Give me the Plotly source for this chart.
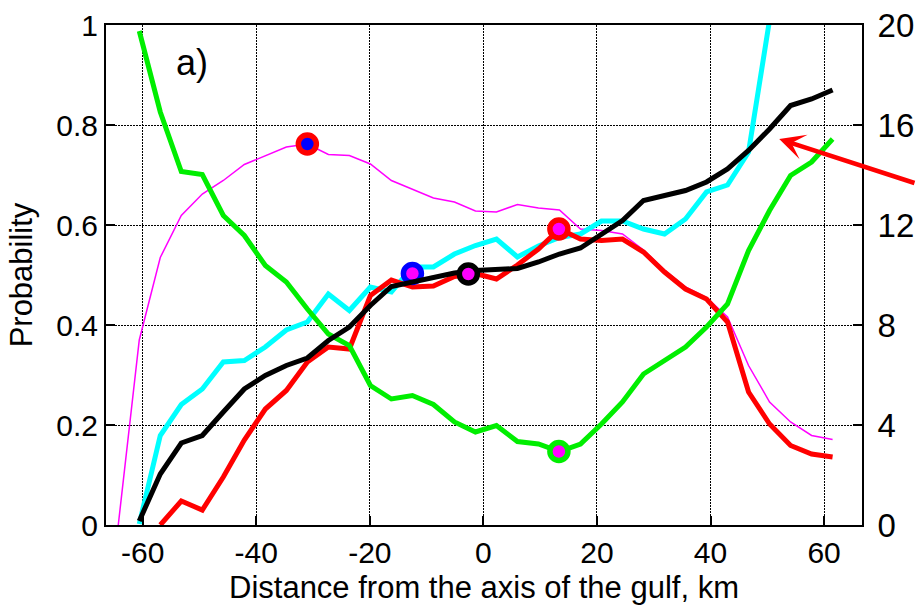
import plotly.graph_objects as go

# Distance grid (km)
x_km = [-60.6, -56.9, -53.2, -49.5, -45.8, -42.1, -38.4, -34.7, -31.0, -27.3,
        -23.6, -19.9, -16.2, -12.5, -8.8, -5.1, -1.4, 2.3, 6.0, 9.7,
        13.4, 17.1, 20.8, 24.5, 28.2, 31.9, 35.6, 39.3, 43.0, 46.7,
        50.4, 54.1, 57.8, 61.5]

green = [0.988, 0.826, 0.707, 0.701, 0.619, 0.579, 0.519, 0.486, 0.432, 0.382,
         0.359, 0.279, 0.252, 0.259, 0.241, 0.206, 0.186, 0.199, 0.167, 0.162,
         0.147, 0.162, 0.202, 0.246, 0.302, 0.329, 0.356, 0.396, 0.442, 0.549,
         0.629, 0.699, 0.726, 0.772]

red = [None, 0.0, 0.048, 0.030, 0.096, 0.170, 0.232, 0.269, 0.326, 0.356,
       0.352, 0.459, 0.490, 0.476, 0.478, 0.497, 0.503, 0.492, 0.520, 0.552,
       0.592, 0.572, 0.569, 0.572, 0.546, 0.506, 0.472, 0.452, 0.406, 0.266,
       0.202, 0.159, 0.142, 0.136]

cyan = [0.002, 0.179, 0.241, 0.272, 0.326, 0.329, 0.356, 0.390, 0.406, 0.462,
        0.429, 0.476, 0.466, 0.516, 0.516, 0.542, 0.559, 0.572, 0.536, 0.558,
        0.575, 0.582, 0.608, 0.608, 0.592, 0.582, 0.612, 0.666, 0.680, 0.746,
        1.01, None, None, None]

# black curve read against the right axis (0-20)
black_right = [0.16, 2.04, 3.28, 3.58, 4.52, 5.44, 5.98, 6.38, 6.68, 7.38,
               7.92, 8.78, 9.54, 9.72, 9.92, 10.08, 10.18, 10.24, 10.26, 10.52,
               10.84, 11.08, 11.64, 12.18, 12.98, 13.18, 13.38, 13.72, 14.24, 14.98,
               15.84, 16.78, 17.04, 17.40]

x_magenta = [-64.3] + x_km
magenta = [0.0, 0.370, 0.535, 0.619, 0.662, 0.689, 0.721, 0.739, 0.756, 0.762, 0.741,
           0.739, 0.722, 0.689, 0.672, 0.654, 0.646, 0.628, 0.626, 0.641, 0.634,
           0.630, 0.592, 0.589, 0.582, 0.550, 0.510, 0.476, 0.455, 0.416, 0.319,
           0.246, 0.206, 0.179, 0.171]

# highlighted points: (x, y, ring colour, fill colour, axis)
mark_x = [-31.0, -12.5, -2.65, 13.3, 13.3]
mark_y = [0.762, 0.503, 10.04, 0.592, 0.147]
mark_ring = ["#ff0000", "#0000ff", "#000000", "#ff0000", "#00ee00"]
mark_fill = ["#0000ff", "#ff00ff", "#ff00ff", "#ff00ff", "#ff00ff"]
mark_axis = ["y", "y", "y2", "y", "y"]

FONT = "Arial, Liberation Sans, Helvetica, sans-serif"

fig = go.Figure()
fig.add_trace(go.Scatter(x=x_magenta, y=magenta, mode="lines",
                         line=dict(color="#ff00ff", width=1.5), hoverinfo="skip"))
fig.add_trace(go.Scatter(x=x_km, y=cyan, mode="lines",
                         line=dict(color="#00ffff", width=5), hoverinfo="skip"))
fig.add_trace(go.Scatter(x=x_km, y=black_right, mode="lines", yaxis="y2",
                         line=dict(color="#000000", width=5), hoverinfo="skip"))
fig.add_trace(go.Scatter(x=x_km, y=red, mode="lines",
                         line=dict(color="#ff0000", width=5), hoverinfo="skip"))
fig.add_trace(go.Scatter(x=x_km, y=green, mode="lines",
                         line=dict(color="#00ee00", width=5), hoverinfo="skip"))
for mx, my, rc, fc, ax in zip(mark_x, mark_y, mark_ring, mark_fill, mark_axis):
    fig.add_trace(go.Scatter(x=[mx], y=[my], mode="markers", yaxis=ax,
                             marker=dict(size=18, color=fc, line=dict(color=rc, width=5.5)),
                             hoverinfo="skip", cliponaxis=False))

fig.add_annotation(x=-51.4, y=0.925, xref="x", yref="y", text="a)", showarrow=False,
                   font=dict(family=FONT, size=36, color="black"),
                   xanchor="center", yanchor="middle")
fig.add_annotation(x=52.1, y=0.772, xref="x", yref="y", text="", showarrow=True,
                   ax=140, ay=44.5, axref="pixel", ayref="pixel",
                   arrowhead=3, arrowsize=0.95, arrowwidth=4.5, arrowcolor="#ff0000",
                   standoff=0)

GRIDDASH = "1.5px,1.5px"

fig.update_layout(
    width=916, height=605,
    margin=dict(l=106, r=54, t=25, b=80),
    paper_bgcolor="white", plot_bgcolor="white",
    showlegend=False,
    font=dict(family=FONT, color="black"),
    xaxis=dict(range=[-66.46, 66.68], tickvals=[-60, -40, -20, 0, 20, 40, 60],
               ticktext=["-60", "-40", "-20", "0", "20", "40", "60"],
               automargin=False,
               showgrid=True, gridcolor="black", gridwidth=1.2, griddash=GRIDDASH,
               zeroline=False, showline=True, linecolor="black", linewidth=2, mirror=True,
               ticks="inside", ticklen=9, tickwidth=1.5, tickcolor="black",
               tickfont=dict(size=30),
               title=dict(text="Distance from the axis of the gulf, km",
                          font=dict(size=31), standoff=9)),
    yaxis=dict(range=[0, 1], tickvals=[0, 0.2, 0.4, 0.6, 0.8, 1],
               ticktext=["0", "0.2", "0.4", "0.6", "0.8", "1"],
               automargin=False,
               showgrid=True, gridcolor="black", gridwidth=1.2, griddash=GRIDDASH,
               zeroline=False, showline=True, linecolor="black", linewidth=2,
               ticks="inside", ticklen=9, tickwidth=1.5, tickcolor="black",
               tickfont=dict(size=30),
               title=dict(text="Probability", font=dict(size=31), standoff=14)),
    yaxis2=dict(range=[0, 20], tickvals=[0, 4, 8, 12, 16, 20],
                ticktext=["0", "4", "8", "12", "16", "20"],
                automargin=False,
                overlaying="y", side="right", showgrid=False, zeroline=False,
                showline=True, linecolor="black", linewidth=2,
                ticks="inside", ticklen=9, tickwidth=1.5, tickcolor="black",
                ticklabelstandoff=7,
                tickfont=dict(size=33)),
)

fig.write_html("out.html")
